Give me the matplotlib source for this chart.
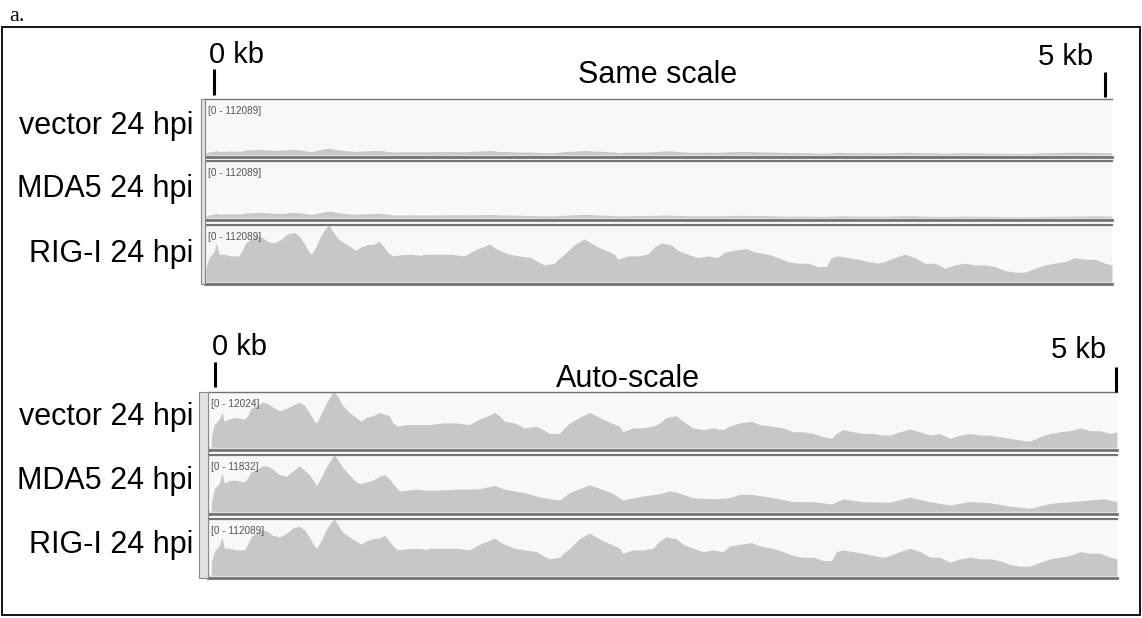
import numpy as np
import matplotlib
matplotlib.use("Agg")
import matplotlib.pyplot as plt
from matplotlib.patches import Rectangle
from matplotlib.lines import Line2D

# ---------------- data ----------------
# genome positions (bp) at which the coverage profile was read
pos_bp = [0, 17, 44, 59, 72, 99, 136, 182, 201, 219, 256, 283, 311, 339, 376, 413, 449, 486,
          514, 541, 569, 582, 606, 634, 661, 680, 698, 725, 762, 799, 827, 855, 891, 928, 956,
          983, 1002, 1029, 1076, 1131, 1186,
          1204, 1278, 1352, 1425, 1481, 1527, 1564, 1591, 1619, 1674, 1729, 1794, 1830, 1867,
          1923, 1941, 1978, 2033, 2088, 2125, 2162, 2208, 2254, 2272, 2328, 2383, 2438,
          2475, 2512, 2567, 2604, 2659, 2714, 2770, 2825, 2862, 2917, 2982, 3028, 3101, 3157,
          3212, 3267, 3322, 3378, 3424, 3451, 3488, 3543, 3599, 3654, 3709,
          3746, 3801, 3856, 3912, 3967, 4022, 4077, 4133, 4188, 4243, 4298, 4354, 4409, 4464,
          4519, 4575, 4630, 4685, 4740, 4796, 4851, 4906, 4961, 5000]

# coverage relative to each sample's own maximum
vector_rel = [0.19, 0.41, 0.51, 0.63, 0.47, 0.51, 0.54, 0.51, 0.57, 0.70, 0.76, 0.82, 0.79, 0.73,
              0.66, 0.70, 0.76, 0.82, 0.76, 0.63, 0.47, 0.44, 0.60, 0.79, 0.95, 1.00, 0.92, 0.76,
              0.63, 0.54, 0.47, 0.54, 0.57, 0.63, 0.60, 0.57, 0.44, 0.38, 0.41, 0.41, 0.41,
              0.41, 0.44, 0.44, 0.41, 0.51, 0.57, 0.63, 0.57, 0.47, 0.44, 0.35, 0.38, 0.32, 0.25,
              0.25, 0.32, 0.44, 0.54, 0.63, 0.57, 0.51, 0.44, 0.38, 0.28, 0.35, 0.35, 0.38,
              0.44, 0.54, 0.57, 0.47, 0.35, 0.32, 0.35, 0.32, 0.38, 0.44, 0.47, 0.41, 0.38, 0.35,
              0.28, 0.28, 0.25, 0.19, 0.16, 0.25, 0.32, 0.28, 0.25, 0.25, 0.22,
              0.22, 0.28, 0.33, 0.28, 0.22, 0.25, 0.16, 0.22, 0.25, 0.22, 0.22, 0.19, 0.16, 0.13,
              0.11, 0.19, 0.25, 0.28, 0.30, 0.35, 0.30, 0.30, 0.25, 0.28]

rigi_rel = [0.23, 0.42, 0.52, 0.68, 0.48, 0.48, 0.45, 0.45, 0.55, 0.68, 0.77, 0.81, 0.78, 0.71,
            0.68, 0.74, 0.84, 0.87, 0.81, 0.68, 0.52, 0.48, 0.61, 0.81, 0.94, 1.00, 0.90, 0.77,
            0.68, 0.61, 0.55, 0.61, 0.65, 0.66, 0.71, 0.61, 0.52, 0.45, 0.47, 0.48, 0.46,
            0.48, 0.48, 0.48, 0.45, 0.55, 0.61, 0.66, 0.60, 0.55, 0.48, 0.45, 0.42, 0.35, 0.29,
            0.32, 0.38, 0.48, 0.65, 0.75, 0.68, 0.61, 0.55, 0.48, 0.39, 0.45, 0.45, 0.48,
            0.61, 0.68, 0.65, 0.55, 0.48, 0.42, 0.45, 0.42, 0.52, 0.55, 0.58, 0.52, 0.48, 0.42,
            0.35, 0.32, 0.32, 0.26, 0.26, 0.42, 0.45, 0.42, 0.39, 0.35, 0.32,
            0.35, 0.42, 0.48, 0.42, 0.32, 0.32, 0.23, 0.29, 0.32, 0.29, 0.29, 0.26, 0.19, 0.16,
            0.16, 0.23, 0.29, 0.32, 0.35, 0.42, 0.39, 0.39, 0.32, 0.29]

mda5_pos_bp = [0, 17, 44, 59, 72, 99, 136, 182, 201, 219, 256, 283, 311, 339, 376, 413, 449, 468,
               486, 541, 582, 606, 634, 661, 680, 698, 725, 762, 799, 827, 855, 891, 928, 956,
               983, 1002, 1039, 1131, 1204, 1352, 1481, 1564, 1619, 1729, 1830, 1923, 1978, 2088,
               2208, 2272, 2383, 2475, 2530, 2567, 2659, 2770, 2862, 2917, 2982, 3101, 3212, 3322,
               3424, 3488, 3599, 3746, 3856, 3967, 4077, 4188, 4298, 4409, 4519, 4630, 4740, 4851,
               4925, 5000]
mda5_rel = [0.15, 0.40, 0.50, 0.68, 0.50, 0.55, 0.55, 0.52, 0.59, 0.70, 0.75, 0.81, 0.80, 0.75,
            0.65, 0.62, 0.71, 0.76, 0.81, 0.65, 0.46, 0.60, 0.78, 0.92, 1.00, 0.92, 0.78, 0.65,
            0.52, 0.49, 0.52, 0.55, 0.62, 0.65, 0.58, 0.49, 0.36, 0.39, 0.37, 0.39, 0.40, 0.46,
            0.39, 0.33, 0.24, 0.20, 0.33, 0.47, 0.33, 0.20, 0.27, 0.31, 0.36, 0.34, 0.24, 0.22,
            0.24, 0.30, 0.30, 0.24, 0.17, 0.17, 0.13, 0.22, 0.17, 0.16, 0.25, 0.17, 0.11, 0.17,
            0.15, 0.09, 0.05, 0.14, 0.17, 0.20, 0.22, 0.17]

samples = ["vector 24 hpi", "MDA5 24 hpi", "RIG-I 24 hpi"]
auto_max = [12024, 11832, 112089]          # data range of each auto-scaled track
same_max = 112089                          # common data range of the same-scale tracks
panel_titles = ["Same scale", "Auto-scale"]
end_labels = ["0 kb", "5 kb"]
region_len = 5000

# ---------------- style / layout ----------------
W, H, DPI = 1142, 618, 100
BG = "#f8f8f8"
FILL = "#c7c7c7"
BASE = "#dedede"
EDGE = "#737373"
FAM = ["Liberation Sans", "DejaVu Sans"]
LABEL_SIZE = 22
KB_SIZE = 21

fig = plt.figure(figsize=(W / DPI, H / DPI), dpi=DPI)
fig.patch.set_facecolor("white")


def fx(x):
    return x / W


def fy(y):
    return 1 - y / H


def ftext(x, y, s, **kw):
    fig.text(fx(x), fy(y), s, **kw)


def fline(x0, y0, x1, y1, **kw):
    fig.add_artist(Line2D([fx(x0), fx(x1)], [fy(y0), fy(y1)], transform=fig.transFigure, **kw))


# outer frame and panel letter
fig.add_artist(Rectangle((fx(2), fy(615)), 1138 / W, (615 - 27) / H, transform=fig.transFigure,
                         fill=False, edgecolor="black", linewidth=1.3))
ftext(9, 21, "a.", family=["Liberation Serif", "DejaVu Serif"], fontsize=16, ha="left",
      va="baseline")

panels = [
    dict(x0=205, x1=1112, strip=(200.5, 205), xl=-5,
         tracks=[(99, 157), (161, 220), (225, 284)],
         lab_base=[134, 197, 262], title=(658, 83), t0=(209, 63), t1=(1093, 65),
         tick0=(214, 69, 95), tick1=(1105, 72, 97)),
    dict(x0=208, x1=1117, strip=(199, 208), xl=-18,
         tracks=[(392, 450), (455, 514), (519, 578)],
         lab_base=[425, 489, 553], title=(628, 387), t0=(212, 355), t1=(1106, 358),
         tick0=(215, 362, 387), tick1=(1116, 367, 392)),
]

profiles = [(pos_bp, vector_rel), (mda5_pos_bp, mda5_rel), (pos_bp, rigi_rel)]

for pi, p in enumerate(panels):
    # left strip
    s0, s1 = p["strip"]
    yt0, yb_last = p["tracks"][0][0], p["tracks"][-1][1]
    fig.add_artist(Rectangle((fx(s0), fy(yb_last)), (s1 - s0) / W, (yb_last - yt0) / H,
                             transform=fig.transFigure, facecolor="#e2e2e2",
                             edgecolor="#8a8a8a", linewidth=0.8))
    for ti, (yt, yb) in enumerate(p["tracks"]):
        xs, rel = profiles[ti]
        cov = np.asarray(rel) * auto_max[ti]
        ymax = same_max if pi == 0 else auto_max[ti]
        pad = 0.05 * ymax
        ax = fig.add_axes([fx(p["x0"]), fy(yb), (p["x1"] - p["x0"]) / W, (yb - yt) / H])
        ax.set_facecolor(BG)
        ax.axhspan(-pad, 0, color=BASE, lw=0)
        ax.fill_between(xs, 0, cov, color=FILL, lw=0)
        ax.set_xlim(p["xl"], region_len)
        ax.set_ylim(-pad, ymax)
        ax.set_xticks([])
        ax.set_yticks([])
        ax.spines["right"].set_visible(False)
        ax.spines["left"].set_color("#9a9a9a")
        ax.spines["left"].set_linewidth(0.8)
        ax.spines["top"].set_color(EDGE)
        ax.spines["top"].set_linewidth(1.0 if ti == 0 else 1.6)
        ax.spines["bottom"].set_color(EDGE)
        ax.spines["bottom"].set_linewidth(2.0)
        ax.annotate(f"[0 - {ymax}]", xy=(0, 1), xycoords="axes fraction",
                    xytext=(2.5, -5), textcoords="offset points", ha="left", va="top",
                    fontsize=7.2, color="#555555", family=FAM)
        # sample label
        ftext(193, p["lab_base"][ti], samples[ti], family=FAM, fontsize=LABEL_SIZE,
              ha="right", va="baseline", color="black")
    # titles and kb marks
    ftext(p["title"][0], p["title"][1], panel_titles[pi], family=FAM,
          fontsize=LABEL_SIZE, ha="center", va="baseline")
    ftext(p["t0"][0], p["t0"][1], end_labels[0], family=FAM, fontsize=KB_SIZE,
          ha="left", va="baseline")
    ftext(p["t1"][0], p["t1"][1], end_labels[1], family=FAM, fontsize=KB_SIZE,
          ha="right", va="baseline")
    for (tx, ty0, ty1) in (p["tick0"], p["tick1"]):
        fline(tx, ty0, tx, ty1, color="black", linewidth=2.2, solid_capstyle="butt")

fig.savefig("out.png", dpi=DPI, facecolor="white")
